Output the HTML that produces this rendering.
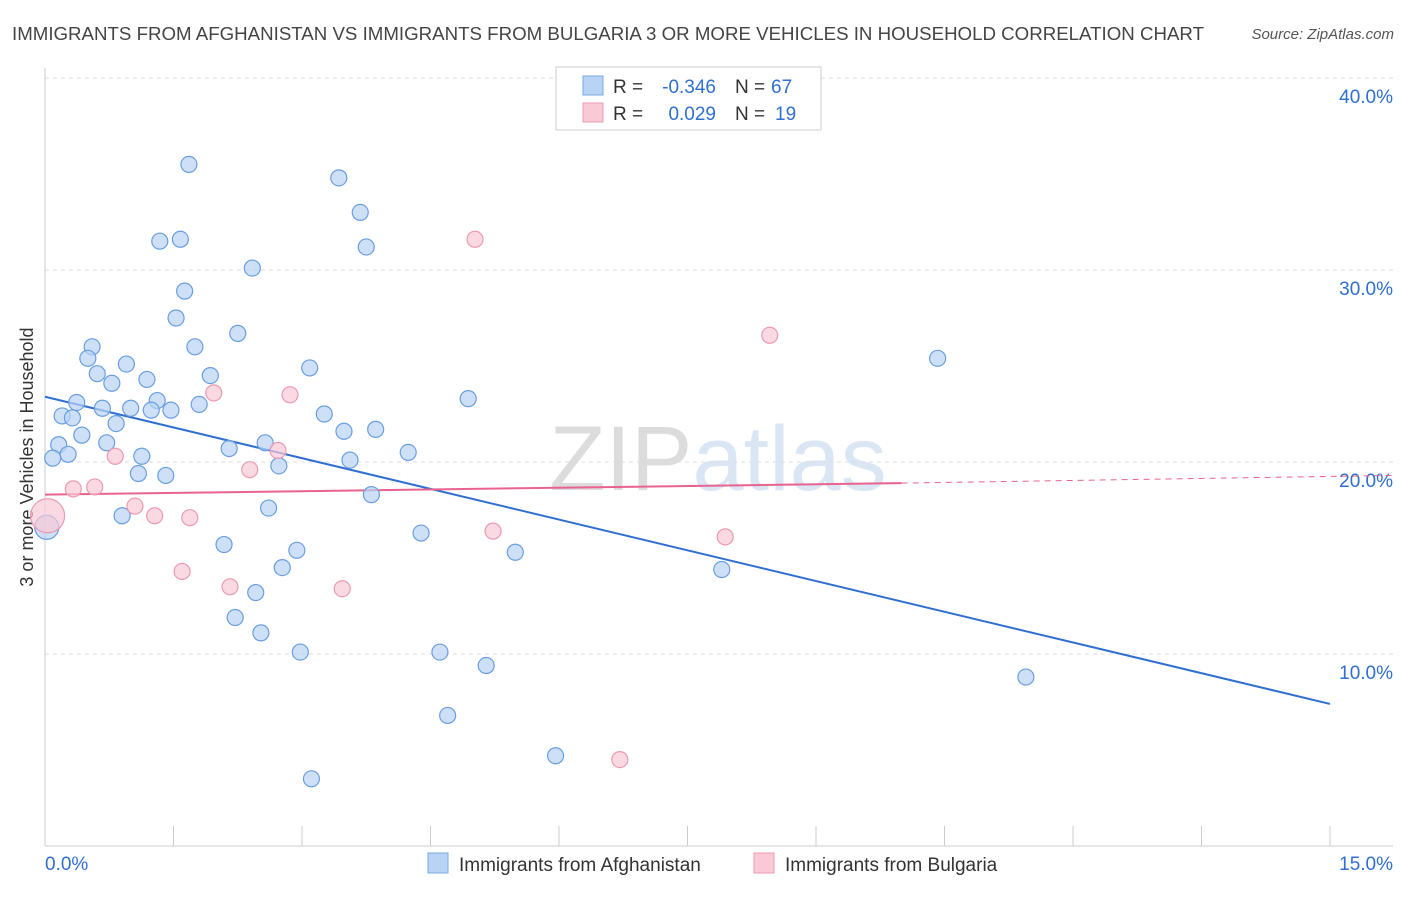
<!DOCTYPE html>
<html><head><meta charset="utf-8"><style>
body{margin:0;background:#fff;font-family:"Liberation Sans",sans-serif;}
svg text{font-family:"Liberation Sans",sans-serif;}
</style></head><body>
<svg id="chart" width="1406" height="892" xmlns="http://www.w3.org/2000/svg">
<text x="12" y="40" font-size="18.5" fill="#444" textLength="1192" lengthAdjust="spacingAndGlyphs">IMMIGRANTS FROM AFGHANISTAN VS IMMIGRANTS FROM BULGARIA 3 OR MORE VEHICLES IN HOUSEHOLD CORRELATION CHART</text>
<text x="1394" y="39" font-size="15" fill="#555" font-style="italic" text-anchor="end">Source: ZipAtlas.com</text>
<text transform="translate(33,457) rotate(-90)" font-size="18" fill="#333" text-anchor="middle">3 or more Vehicles in Household</text>
<text x="718" y="490" font-size="92" fill="#e3e3e3" text-anchor="middle" font-family="Liberation Serif"><tspan fill="#dcdcdc">ZIP</tspan><tspan fill="#dbe6f5" font-family="Liberation Sans">atlas</tspan></text>
<g id="grid"></g><g id="axes"></g><g id="lines"></g><g id="pts"></g>
<g>
<rect x="556" y="67" width="265" height="63" fill="#fff" stroke="#ccc"/>
<rect x="583" y="76" width="20" height="19" fill="#b8d3f5" stroke="#7aa8e0"/>
<rect x="583" y="103" width="20" height="19" fill="#f9c9d6" stroke="#ee9ab2"/>
<text x="613" y="93" font-size="19" fill="#333">R =</text>
<text x="716" y="93" font-size="19" fill="#2f6fd0" text-anchor="end">-0.346</text>
<text x="735" y="93" font-size="19" fill="#333">N =</text>
<text x="771" y="93" font-size="19" fill="#2f6fd0">67</text>
<text x="613" y="120" font-size="19" fill="#333">R =</text>
<text x="716" y="120" font-size="19" fill="#2f6fd0" text-anchor="end">0.029</text>
<text x="735" y="120" font-size="19" fill="#333">N =</text>
<text x="775" y="120" font-size="19" fill="#2f6fd0">19</text>
</g>
<g>
<rect x="428" y="853" width="20" height="20" fill="#b8d3f5" stroke="#7aa8e0"/>
<text x="459" y="871" font-size="19" fill="#333">Immigrants from Afghanistan</text>
<rect x="754" y="853" width="20" height="20" fill="#f9c9d6" stroke="#ee9ab2"/>
<text x="785" y="871" font-size="19" fill="#333">Immigrants from Bulgaria</text>
</g>
</svg>
<script>
const blueX=[1.68,3.43,3.68,1.34,1.58,3.75,2.42,1.63,1.53,2.25,1.75,0.55,0.50,0.95,3.09,0.61,10.42,0.78,1.19,1.93,4.94,0.37,1.31,1.80,0.20,0.32,0.67,1.00,1.24,1.47,3.26,0.83,3.86,3.49,0.43,2.57,0.16,0.72,2.15,4.24,1.13,0.27,0.09,3.56,2.73,1.09,1.41,3.81,2.61,0.90,0.02,4.39,2.09,2.94,5.49,2.77,7.90,2.46,2.22,2.52,2.98,4.61,5.15,11.45,4.70,5.96,3.11];
const blueY=[35.5,34.8,33.0,31.5,31.6,31.2,30.1,28.9,27.5,26.7,26.0,26.0,25.4,25.1,24.9,24.6,25.4,24.1,24.3,24.5,23.3,23.1,23.2,23.0,22.4,22.3,22.8,22.8,22.7,22.7,22.5,22.0,21.7,21.6,21.4,21.0,20.9,21.0,20.7,20.5,20.3,20.4,20.2,20.1,19.8,19.4,19.3,18.3,17.6,17.2,16.6,16.3,15.7,15.4,15.3,14.5,14.4,13.2,11.9,11.1,10.1,10.1,9.4,8.8,6.8,4.7,3.5];
const pinkX=[5.02,8.46,1.97,2.86,2.72,0.82,2.39,0.33,0.58,1.05,1.28,1.69,0.03,5.23,7.94,1.60,2.16,3.47,6.71];
const pinkY=[31.6,26.6,23.6,23.5,20.6,20.3,19.6,18.6,18.7,17.7,17.2,17.1,17.2,16.4,16.1,14.3,13.5,13.4,4.5];
const yTicks=[10,20,30,40];
const xTicks=[0,1.5,3,4.5,6,7.5,9,10.5,12,13.5,15];
const blueTrend=[23.4,7.4];
const pinkTrend=[18.3,18.9,19.3];
const NS="http://www.w3.org/2000/svg";
const sx=v=>45+v/15*1285, sy=v=>846-v*19.2;
function mk(p,t,a){const e=document.createElementNS(NS,t);for(const k in a)e.setAttribute(k,a[k]);document.getElementById(p).appendChild(e);return e;}
yTicks.forEach(t=>{
 const l=mk('grid','line',{x1:45,x2:1393,y1:sy(t),y2:sy(t),stroke:'#ddd','stroke-dasharray':'4,4'});
 
 
 const tx=mk('grid','text',{x:1393,y:sy(t)+25,'font-size':19,fill:'#2f6fd0','text-anchor':'end'});tx.textContent=t.toFixed(1)+'%';
 
 
});
mk('axes','line',{x1:45,x2:45,y1:68,y2:846,stroke:'#ccc'});
mk('axes','line',{x1:45,x2:1393,y1:846,y2:846,stroke:'#ccc'});
xTicks.forEach(t=>{const l=mk('axes','line',{x1:sx(t),x2:sx(t),y1:826,y2:846,stroke:'#ccc'});
 
 });
const x0=mk('axes','text',{x:45,y:870,'font-size':19,fill:'#2f6fd0'});x0.textContent='0.0%';


const x1=mk('axes','text',{x:1393,y:870,'font-size':19,fill:'#2f6fd0','text-anchor':'end'});x1.textContent='15.0%';


blueX.forEach((x,i)=>{const c=mk('pts','circle',{cx:sx(x),cy:sy(blueY[i]),r:x<0.05?12:8,fill:'#b8d3f5','fill-opacity':0.7,stroke:'#6a9ee0','stroke-width':1.2});
 
 });
pinkX.forEach((x,i)=>{const c=mk('pts','circle',{cx:sx(x),cy:sy(pinkY[i]),r:x<0.05?17:8,fill:'#f9c9d6','fill-opacity':0.7,stroke:'#ec9ab2','stroke-width':1.2});
 
 });
const bl=mk('lines','line',{x1:sx(0),y1:sy(blueTrend[0]),x2:sx(15),y2:sy(blueTrend[1]),stroke:'#2f6fd0','stroke-width':2});


const pl=mk('lines','line',{x1:sx(0),y1:sy(pinkTrend[0]),x2:sx(10),y2:sy(pinkTrend[1]),stroke:'#e8648e','stroke-width':2});


const pd=mk('lines','line',{x1:sx(10),y1:sy(pinkTrend[1]),x2:1393,y2:sy(pinkTrend[2]),stroke:'#e8648e','stroke-width':1,'stroke-dasharray':'6,5'});


</script>
</body></html>
